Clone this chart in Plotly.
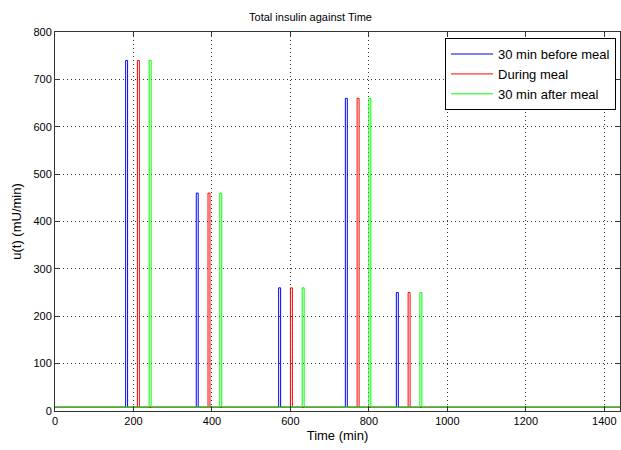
import plotly.graph_objects as go

# Data
series_names = ["30 min before meal", "During meal", "30 min after meal"]
series_colors = ["#0000FF", "#FF0000", "#00FF00"]
pulse_starts = [
    [180, 360, 570, 740, 870],   # 30 min before meal
    [210, 390, 600, 770, 900],   # during meal
    [240, 420, 630, 800, 930],   # 30 min after meal
]
pulse_peaks = [740, 460, 260, 660, 250]
pulse_duration = 5
baseline = 8
t_end = 1440


def step_series(starts, peaks):
    t = [0]
    u = [baseline]
    for s, p in zip(starts, peaks):
        t += [s, s, s + pulse_duration, s + pulse_duration]
        u += [baseline, p, p, baseline]
    t.append(t_end)
    u.append(baseline)
    return t, u


fig = go.Figure()
for name, color, starts in zip(series_names, series_colors, pulse_starts):
    t, u = step_series(starts, pulse_peaks)
    fig.add_trace(go.Scatter(x=t, y=u, mode="lines", name=name,
                             line=dict(color=color, width=1)))

font = dict(family="Liberation Sans, Arial, sans-serif", size=11, color="#000")
axis_common = dict(showline=True, linecolor="#333", linewidth=1, mirror="allticks",
                   ticks="inside", ticklen=5, tickcolor="#333",
                   showgrid=True, gridcolor="#333", griddash="1px,3px", gridwidth=1,
                   zeroline=False, tickfont=font, automargin=False)

fig.update_layout(
    width=621, height=450,
    paper_bgcolor="white", plot_bgcolor="white",
    margin=dict(l=55, r=1, t=32, b=39),
    font=font,
    title=dict(text="Total insulin against Time", x=0.5, xanchor="center",
               y=0.962, yanchor="middle", font=dict(size=11)),
    xaxis=dict(range=[0, 1440], tickmode="array", tickvals=list(range(0, 1401, 200)),
               title=dict(text="Time (min)", standoff=4), **axis_common),
    yaxis=dict(range=[0, 800], dtick=100,
               title=dict(text="u(t) (mU/min)", standoff=8), **axis_common),
    legend=dict(x=0.993, y=0.984, xanchor="right", yanchor="top",
                bgcolor="white", bordercolor="#000", borderwidth=1,
                font=dict(size=13), itemwidth=42, tracegroupgap=0),
    showlegend=True,
)

fig.write_html("out.html", config={"displayModeBar": False},
               post_script="document.body.style.margin='0';")
